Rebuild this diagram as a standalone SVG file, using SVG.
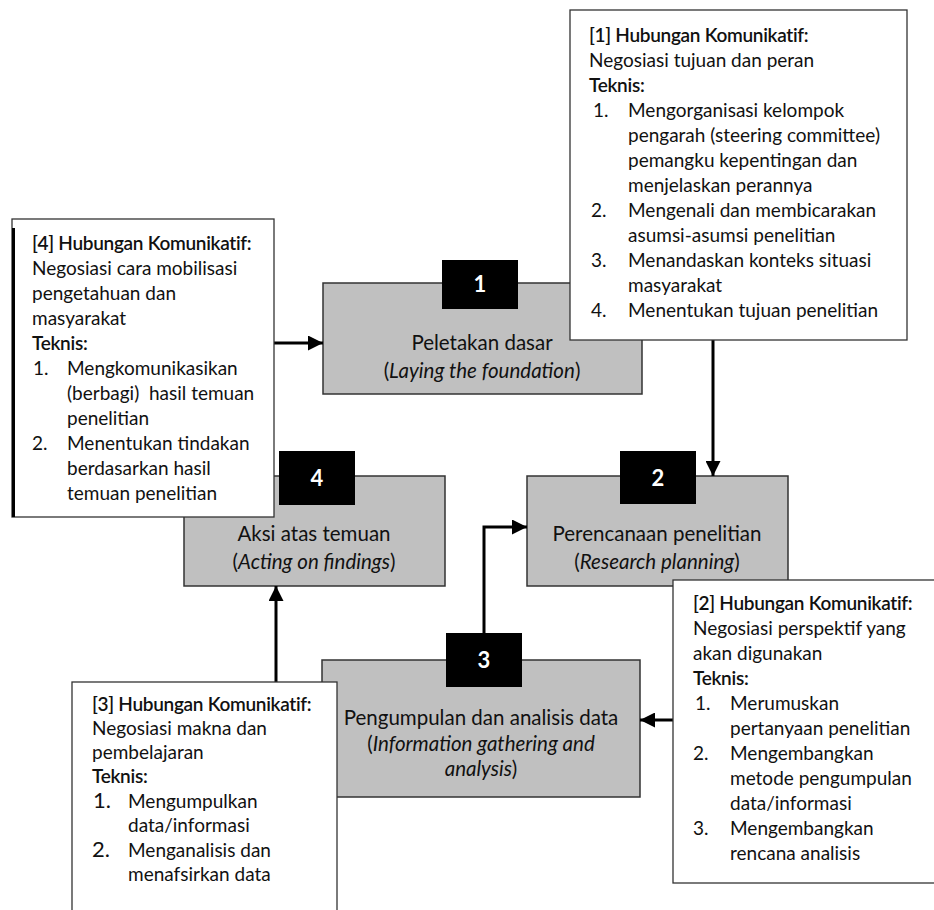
<svg xmlns="http://www.w3.org/2000/svg" width="934" height="910" viewBox="0 0 934 910">
<style>
.bg{fill:#fff}
.callout{fill:#fff;stroke:#333;stroke-width:1.3}
.box{fill:#c0c0c0;stroke:#333;stroke-width:1.5}
.tag{fill:#000}
.t{font-family:Lato,"Noto Sans",sans-serif;font-size:19px;fill:#111}
.bt{font-family:Lato,"Noto Sans",sans-serif;font-size:20.5px;fill:#111;text-anchor:middle}
.h{font-weight:600;letter-spacing:-0.3px}
.n{font-family:Lato,"Noto Sans",sans-serif;font-size:22px;font-weight:700;fill:#fff;text-anchor:middle}
.conn{stroke:#000;stroke-width:3;fill:none}
.big{font-size:22px}
</style>
<defs>
<marker id="ah" viewBox="0 0 10 10" refX="10" refY="5" markerWidth="5" markerHeight="5" orient="auto" markerUnits="strokeWidth">
<path d="M0,0 L10,5 L0,10 z" fill="#000"/>
</marker>
</defs>
<rect class="bg" x="0" y="0" width="934" height="910"/>

<g id="step1">
<rect class="box" x="323" y="283" width="319" height="111"/>
<rect class="tag" x="442" y="260" width="76" height="49"/>
<text class="n" x="480" y="292">1</text>
<text class="bt" x="482" y="350">Peletakan dasar</text>
<text class="bt" x="482" y="378">(<tspan font-style="italic">Laying the foundation</tspan>)</text>
</g>

<g id="step2">
<rect class="box" x="527" y="476" width="261" height="110"/>
<rect class="tag" x="620" y="451" width="76" height="53"/>
<text class="n" x="658" y="486">2</text>
<text class="bt" x="657" y="541">Perencanaan penelitian</text>
<text class="bt" x="657" y="569">(<tspan font-style="italic">Research planning</tspan>)</text>
</g>

<g id="step3">
<rect class="box" x="322" y="660" width="318" height="137"/>
<rect class="tag" x="446" y="633" width="76" height="54"/>
<text class="n" x="484" y="668">3</text>
<text class="bt" x="481" y="725">Pengumpulan dan analisis data</text>
<text class="bt" x="481" y="751">(<tspan font-style="italic">Information gathering and</tspan></text>
<text class="bt" x="481" y="776"><tspan font-style="italic">analysis</tspan>)</text>
</g>

<g id="step4">
<rect class="box" x="184" y="476" width="261" height="110"/>
<rect class="tag" x="279" y="451" width="76" height="54"/>
<text class="n" x="317" y="486">4</text>
<text class="bt" x="314" y="541">Aksi atas temuan</text>
<text class="bt" x="314" y="569">(<tspan font-style="italic">Acting on findings</tspan>)</text>
</g>

<g id="connectors">
<path class="conn" d="M274,343 L323,343" marker-end="url(#ah)"/>
<path class="conn" d="M713,340 L713,476" marker-end="url(#ah)"/>
<path class="conn" d="M484,633 L484,527 L527,527" stroke-width="2.5" marker-end="url(#ah)"/>
<path class="conn" d="M673,720 L640,720" marker-end="url(#ah)"/>
<path class="conn" d="M276,682 L276,586" marker-end="url(#ah)"/>
</g>

<g id="comm1">
<rect class="callout" x="570" y="10" width="337" height="330"/>
<text class="t h" x="589" y="42">[1] Hubungan Komunikatif:</text>
<text class="t" x="589" y="67">Negosiasi tujuan dan peran</text>
<text class="t h" x="589" y="92">Teknis:</text>
<text class="t" x="593" y="117">1.</text><text class="t" x="628" y="117">Mengorganisasi kelompok</text>
<text class="t" x="628" y="142">pengarah (steering committee)</text>
<text class="t" x="628" y="167">pemangku kepentingan dan</text>
<text class="t" x="628" y="192">menjelaskan perannya</text>
<text class="t" x="591" y="217">2.</text><text class="t" x="628" y="217">Mengenali dan membicarakan</text>
<text class="t" x="628" y="242">asumsi-asumsi penelitian</text>
<text class="t" x="591" y="267">3.</text><text class="t" x="628" y="267">Menandaskan konteks situasi</text>
<text class="t" x="628" y="292">masyarakat</text>
<text class="t" x="591" y="317">4.</text><text class="t" x="628" y="317">Menentukan tujuan penelitian</text>
</g>

<g id="comm4">
<rect class="callout" x="12" y="219" width="262" height="298"/>
<line x1="13.5" y1="228" x2="13.5" y2="517" stroke="#000" stroke-width="3"/>
<text class="t h" x="32" y="250">[4] Hubungan Komunikatif:</text>
<text class="t" x="32" y="275">Negosiasi cara mobilisasi</text>
<text class="t" x="32" y="300">pengetahuan dan</text>
<text class="t" x="32" y="325">masyarakat</text>
<text class="t h" x="32" y="350">Teknis:</text>
<text class="t" x="33" y="375">1.</text><text class="t" x="67" y="375">Mengkomunikasikan</text>
<text class="t" x="67" y="400" style="white-space:pre">(berbagi)  hasil temuan</text>
<text class="t" x="67" y="425">penelitian</text>
<text class="t" x="32" y="450">2.</text><text class="t" x="67" y="450">Menentukan tindakan</text>
<text class="t" x="67" y="475">berdasarkan hasil</text>
<text class="t" x="67" y="500">temuan penelitian</text>
</g>

<g id="comm2">
<rect class="callout" x="673" y="580" width="270" height="303"/>
<text class="t h" x="693" y="610">[2] Hubungan Komunikatif:</text>
<text class="t" x="693" y="635">Negosiasi perspektif yang</text>
<text class="t" x="693" y="660">akan digunakan</text>
<text class="t h" x="693" y="685">Teknis:</text>
<text class="t" x="695" y="710">1.</text><text class="t" x="730" y="710">Merumuskan</text>
<text class="t" x="730" y="735">pertanyaan penelitian</text>
<text class="t" x="693" y="760">2.</text><text class="t" x="730" y="760">Mengembangkan</text>
<text class="t" x="730" y="785">metode pengumpulan</text>
<text class="t" x="730" y="810">data/informasi</text>
<text class="t" x="693" y="835">3.</text><text class="t" x="730" y="835">Mengembangkan</text>
<text class="t" x="730" y="860">rencana analisis</text>
</g>

<g id="comm3">
<rect class="callout" x="72" y="682" width="265" height="240"/>
<text class="t h" x="92" y="711">[3] Hubungan Komunikatif:</text>
<text class="t" x="92" y="735">Negosiasi makna dan</text>
<text class="t" x="92" y="759">pembelajaran</text>
<text class="t h" x="92" y="783">Teknis:</text>
<text class="t big" x="93" y="808">1.</text><text class="t" x="128" y="808">Mengumpulkan</text>
<text class="t" x="128" y="832">data/informasi</text>
<text class="t big" x="92" y="857">2.</text><text class="t" x="128" y="857">Menganalisis dan</text>
<text class="t" x="128" y="881">menafsirkan data</text>
</g>
</svg>
